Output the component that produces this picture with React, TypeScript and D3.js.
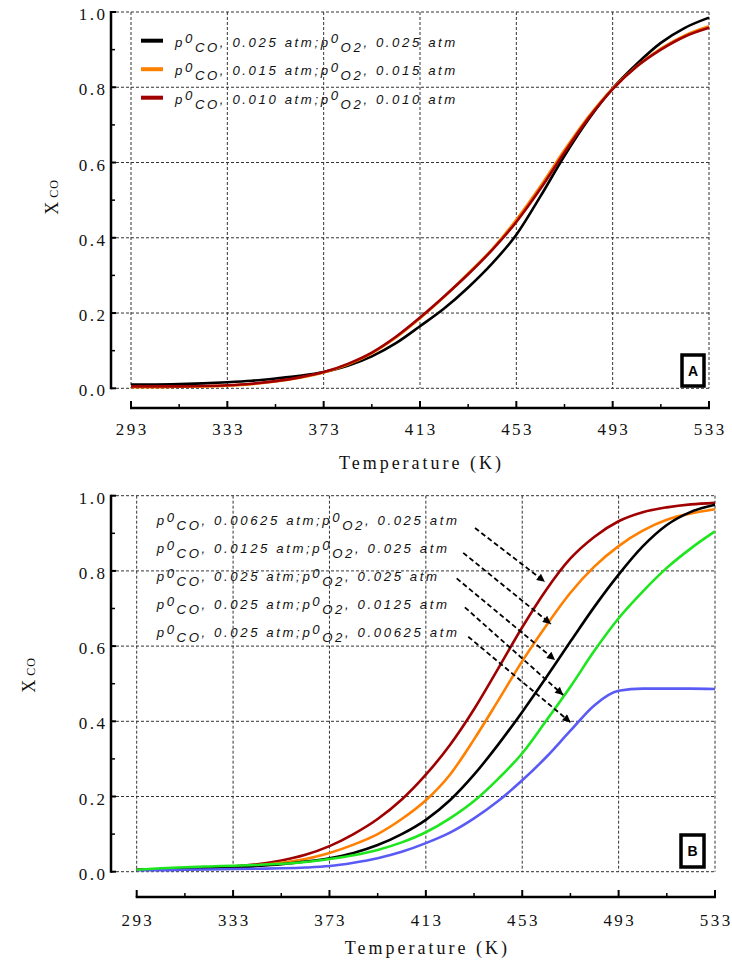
import React from 'react';
import * as d3 from 'd3';

// temperature grid (K)
const temps = [293, 303, 313, 323, 333, 343, 353, 363, 373, 383, 393, 403, 413, 423, 433, 443, 453, 463, 473, 483, 493, 503, 513, 523, 533];
const xTicks = [293, 333, 373, 413, 453, 493, 533];
const xMinor = [313, 353, 393, 433, 473, 513];
const yTicks = [0, 0.2, 0.4, 0.6, 0.8, 1.0];
const yMinor = [0.1, 0.3, 0.5, 0.7, 0.9];

// panel A: equal CO/O2 pressures
const a025 = [0.010, 0.010, 0.011, 0.013, 0.016, 0.020, 0.026, 0.033, 0.043, 0.060, 0.085, 0.120, 0.165, 0.212, 0.268, 0.332, 0.408, 0.510, 0.618, 0.715, 0.797, 0.862, 0.918, 0.958, 0.985];
const a015 = [0.003, 0.003, 0.004, 0.005, 0.007, 0.011, 0.018, 0.028, 0.042, 0.063, 0.093, 0.135, 0.186, 0.243, 0.305, 0.370, 0.448, 0.537, 0.633, 0.722, 0.797, 0.856, 0.903, 0.938, 0.962];
const a010 = [0.005, 0.005, 0.005, 0.006, 0.008, 0.012, 0.019, 0.029, 0.043, 0.065, 0.095, 0.137, 0.188, 0.244, 0.303, 0.368, 0.442, 0.530, 0.627, 0.718, 0.795, 0.855, 0.900, 0.935, 0.958];
const legendA = [['0.025', '0.025'], ['0.015', '0.015'], ['0.010', '0.010']];
const colorsA = ['#000000', '#ff8000', '#a00000'];

// panel B: varying CO or O2
const b1 = [0.005, 0.006, 0.008, 0.010, 0.014, 0.020, 0.030, 0.045, 0.068, 0.100, 0.140, 0.192, 0.258, 0.337, 0.432, 0.540, 0.650, 0.750, 0.833, 0.891, 0.932, 0.956, 0.969, 0.977, 0.981];
const b2 = [0.005, 0.006, 0.007, 0.009, 0.012, 0.017, 0.024, 0.034, 0.050, 0.072, 0.100, 0.140, 0.190, 0.258, 0.352, 0.455, 0.560, 0.655, 0.742, 0.812, 0.866, 0.907, 0.936, 0.953, 0.964];
const b3 = [0.005, 0.006, 0.007, 0.009, 0.011, 0.015, 0.020, 0.027, 0.036, 0.050, 0.071, 0.100, 0.138, 0.190, 0.258, 0.338, 0.425, 0.517, 0.612, 0.705, 0.790, 0.865, 0.922, 0.957, 0.976];
const b4 = [0.005, 0.009, 0.012, 0.014, 0.016, 0.018, 0.021, 0.026, 0.034, 0.044, 0.058, 0.078, 0.105, 0.142, 0.188, 0.247, 0.315, 0.402, 0.492, 0.588, 0.674, 0.745, 0.808, 0.860, 0.905];
const b5 = [0.004, 0.004, 0.005, 0.006, 0.007, 0.008, 0.009, 0.011, 0.015, 0.024, 0.036, 0.053, 0.076, 0.104, 0.142, 0.188, 0.243, 0.305, 0.375, 0.443, 0.481, 0.487, 0.487, 0.487, 0.486];
const legendB = [['0.00625', '0.025'], ['0.0125', '0.025'], ['0.025', '0.025'], ['0.025', '0.0125'], ['0.025', '0.00625']];
const colorsB = ['#a00000', '#ff8000', '#000000', '#1ee61e', '#5a5af5'];
// arrow start / end in data units (T, X)
const arrowFrom = [[433.4, 0.914], [428.5, 0.848], [425.8, 0.780], [429.2, 0.703], [430.6, 0.625]];
const arrowTo = [[462.4, 0.771], [464.9, 0.659], [466.6, 0.563], [470.0, 0.470], [473.1, 0.397]];

const serif = 'Liberation Serif, Times New Roman, serif';
const sans = 'Liberation Sans, Arial, sans-serif';

const LegendText = ({ x, y, co, o2 }) => (
  <text x={x} y={y} fontFamily={sans} fontStyle="italic" fontSize={13.2} letterSpacing={2.6} fill="#111">
    <tspan>p</tspan>
    <tspan dy={-3.5}>0</tspan>
    <tspan dy={8.5}>CO</tspan>
    <tspan dy={-5}>{`, ${co} atm;p`}</tspan>
    <tspan dy={-3.5}>0</tspan>
    <tspan dy={8.5}>O2</tspan>
    <tspan dy={-5}>{`, ${o2} atm`}</tspan>
  </text>
);

const Panel = ({ box, series, colors, label, labelBox, yLabelPos, tickY, titleY, children }) => {
  const x = d3.scaleLinear().domain([293, 533]).range([box.left, box.right]);
  const y = d3.scaleLinear().domain([0, 1]).range([box.bottom, box.top]);
  const line = d3.line().x((d, i) => x(temps[i])).y(d => y(d)).curve(d3.curveMonotoneX);
  return (
    <g>
      {/* grid */}
      {yTicks.map(t => (
        <line key={'gy' + t} x1={box.axisX} x2={box.right} y1={y(t)} y2={y(t)} stroke="#333" strokeWidth={1} strokeDasharray="3,2" />
      ))}
      {xTicks.map(t => (
        <line key={'gx' + t} x1={x(t)} x2={x(t)} y1={y(1)} y2={y(0)} stroke="#333" strokeWidth={1} strokeDasharray="3,2" />
      ))}
      {/* y axis */}
      <line x1={box.axisX} x2={box.axisX} y1={y(1) - 1} y2={y(0) + 1} stroke="#000" strokeWidth={2.5} />
      {yTicks.map(t => (
        <g key={'yt' + t}>
          <line x1={box.axisX} x2={box.axisX + 5} y1={y(t)} y2={y(t)} stroke="#000" strokeWidth={2} />
          <text x={105 + 2.5} y={y(t) + 8} textAnchor="end" fontFamily={serif} fontSize={17} letterSpacing={2.5} fill="#111">{t.toFixed(1)}</text>
        </g>
      ))}
      {yMinor.map(t => (
        <line key={'ym' + t} x1={box.axisX} x2={box.axisX + 4} y1={y(t)} y2={y(t)} stroke="#000" strokeWidth={1.5} />
      ))}
      {/* x axis */}
      <line x1={box.left - 1} x2={box.right + 1} y1={box.axisY} y2={box.axisY} stroke="#000" strokeWidth={2.5} />
      {xTicks.map(t => (
        <g key={'xt' + t}>
          <line x1={x(t)} x2={x(t)} y1={box.axisY} y2={box.axisY - 7} stroke="#000" strokeWidth={2} />
          <text x={x(t) + 1.2} y={tickY} textAnchor="middle" fontFamily={serif} fontSize={17} letterSpacing={2.4} fill="#111">{t}</text>
        </g>
      ))}
      {xMinor.map(t => (
        <line key={'xm' + t} x1={x(t)} x2={x(t)} y1={box.axisY} y2={box.axisY - 4} stroke="#000" strokeWidth={1.5} />
      ))}
      <text x={(box.left + box.right) / 2 + 1.5} y={titleY} textAnchor="middle" fontFamily={serif} fontSize={18} letterSpacing={3} fill="#111">Temperature (K)</text>
      <text transform={`translate(${yLabelPos[0]},${yLabelPos[1]}) rotate(-90)`} textAnchor="middle" fontFamily={serif} fontSize={18} fill="#111">
        X<tspan fontSize={12} dx={4} letterSpacing={1}>CO</tspan>
      </text>
      {/* curves */}
      {series.map((s, i) => (
        <path key={'s' + i} d={line(s)} fill="none" stroke={colors[i]} strokeWidth={2.6} strokeLinejoin="round" />
      ))}
      {/* panel letter */}
      <rect x={labelBox.x} y={labelBox.y} width={labelBox.w} height={labelBox.h} fill="#fff" stroke="#000" strokeWidth={3.5} />
      <text x={labelBox.x + labelBox.w / 2} y={labelBox.y + labelBox.h / 2 + 5} textAnchor="middle" fontFamily={sans} fontWeight="bold" fontSize={14} fill="#000">{label}</text>
      {children && children(x, y)}
    </g>
  );
};

export default function App() {
  const boxA = { left: 131, right: 709, top: 12, bottom: 388.3, axisX: 111, axisY: 408 };
  const boxB = { left: 136.7, right: 715, top: 495.7, bottom: 871.7, axisX: 111, axisY: 897 };
  return (
    <svg width={732} height={963} style={{ position: 'absolute', left: 0, top: 0, background: '#fff' }}>
      <defs>
        <marker id="ah" viewBox="0 0 10 10" refX={10} refY={5} markerWidth={11} markerHeight={8} markerUnits="userSpaceOnUse" orient="auto">
          <path d="M0,0 L10,5 L0,10 z" fill="#000" />
        </marker>
      </defs>
      <Panel box={boxA} series={[a025, a015, a010]} colors={colorsA} label="A"
        labelBox={{ x: 682, y: 355, w: 22, h: 31 }} yLabelPos={[58, 197]} tickY={435} titleY={469}>
        {() => (
          <g>
            {legendA.map((l, i) => (
              <g key={'la' + i}>
                <line x1={141} x2={163} y1={boxA.top + 28.7 + i * 28.5} y2={boxA.top + 28.7 + i * 28.5} stroke={colorsA[i]} strokeWidth={4} />
                <LegendText x={175} y={boxA.top + 34.7 + i * 28.5} co={l[0]} o2={l[1]} />
              </g>
            ))}
          </g>
        )}
      </Panel>
      <Panel box={boxB} series={[b1, b2, b3, b5, b4]} colors={[colorsB[0], colorsB[1], colorsB[2], colorsB[4], colorsB[3]]} label="B"
        labelBox={{ x: 681, y: 835, w: 23, h: 32 }} yLabelPos={[35, 675]} tickY={926} titleY={954}>
        {(x, y) => (
          <g>
            {legendB.map((l, i) => (
              <LegendText key={'lb' + i} x={156.7} y={boxB.top + 29.3 + i * 28} co={l[0]} o2={l[1]} />
            ))}
            {arrowFrom.map((a, i) => (
              <line key={'ar' + i} x1={x(a[0])} y1={y(a[1])} x2={x(arrowTo[i][0])} y2={y(arrowTo[i][1])}
                stroke="#000" strokeWidth={1.8} strokeDasharray="5,3" markerEnd="url(#ah)" />
            ))}
          </g>
        )}
      </Panel>
    </svg>
  );
}
